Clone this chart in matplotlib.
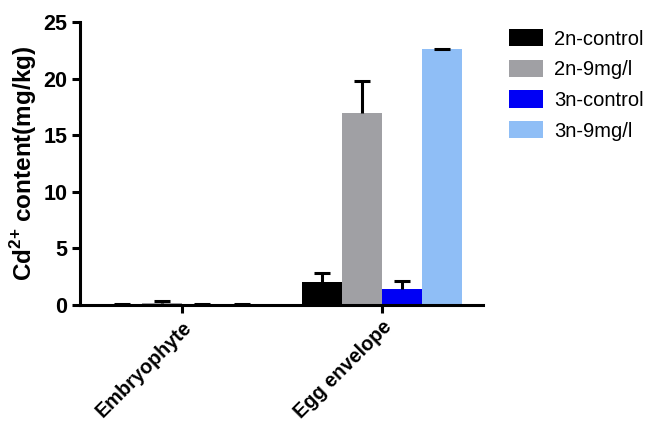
import matplotlib
matplotlib.use("Agg")
import matplotlib.pyplot as plt
import numpy as np
from matplotlib.patches import Patch

plt.rcParams['font.family'] = ['Liberation Sans', 'DejaVu Sans']
plt.rcParams['mathtext.fontset'] = 'custom'
plt.rcParams['mathtext.rm'] = 'Liberation Sans:bold'
plt.rcParams['mathtext.bf'] = 'Liberation Sans:bold'

# data
tissues = ["Embryophyte", "Egg envelope"]
groups = ["2n-control", "2n-9mg/l", "3n-control", "3n-9mg/l"]
means = {
    "2n-control": [0.1, 2.0],
    "2n-9mg/l": [0.15, 17.0],
    "3n-control": [0.1, 1.45],
    "3n-9mg/l": [0.08, 22.6],
}
errs = {
    "2n-control": [0.0, 0.8],
    "2n-9mg/l": [0.2, 2.8],
    "3n-control": [0.0, 0.7],
    "3n-9mg/l": [0.0, 0.0],
}
colors = ["#000000", "#A0A0A4", "#0000F5", "#8FBEF6"]

fig = plt.figure(figsize=(6.53, 4.25), dpi=100)
ax = fig.add_axes([0.1225, 0.2824, 0.6172, 0.6658])

x = np.arange(len(tissues))
width = 0.2
offsets = [-0.3, -0.1, 0.1, 0.3]
for g, c, off in zip(groups, colors, offsets):
    ax.bar(x + off, means[g], width, color=c, edgecolor='none', zorder=2)
    # only the upper half of the error bar is shown
    eb = ax.errorbar(x + off, means[g], yerr=[np.zeros(len(x)), errs[g]],
                     fmt='none', ecolor='black', elinewidth=2.2, capsize=6,
                     capthick=2.2, zorder=3)
    eb[1][0].set_visible(False)

ax.set_xlim(-0.51, 1.505)
ax.set_ylim(0, 25)
ax.set_yticks([0, 5, 10, 15, 20, 25])
ax.set_xticks(x)
ax.set_xticklabels(tissues, rotation=45, ha='right', rotation_mode='anchor',
                   fontsize=14.3, fontweight='bold')
for lab in ax.get_yticklabels():
    lab.set_fontweight('bold')
    lab.set_fontsize(15.5)

ax.set_ylabel("Cd$^{2{+}}$ content(mg/kg)", fontsize=17.5, fontweight='bold', labelpad=3)

for s in ['top', 'right']:
    ax.spines[s].set_visible(False)
for s in ['left', 'bottom']:
    ax.spines[s].set_linewidth(2.2)
ax.tick_params(width=2.2, length=6, pad=3)

handles = [Patch(facecolor=c, edgecolor='none') for c in colors]
fig.legend(handles, groups, loc='upper left', bbox_to_anchor=(0.758, 0.965),
           frameon=False, fontsize=14.5, handlelength=1.7, handleheight=0.95,
           labelspacing=0.55, handletextpad=0.55, borderaxespad=0.3)

fig.savefig("out.png", dpi=100)
